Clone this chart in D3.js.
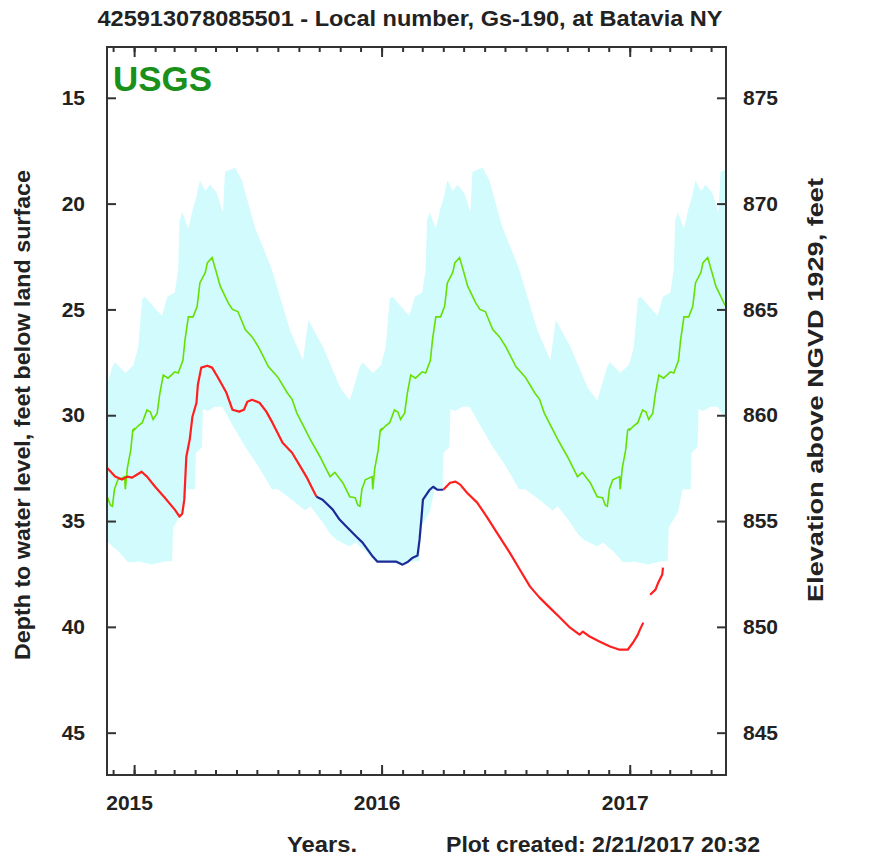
<!DOCTYPE html>
<html>
<head>
<meta charset="utf-8">
<script src="https://cdn.jsdelivr.net/npm/d3@7"></script>
<style>
body { margin: 0; background: #fff; }
text { font-family: "Liberation Sans", Arial, sans-serif; font-weight: bold; fill: #222; }
.axis line { stroke: #333; stroke-width: 2; }
.axis path { display: none; }
</style>
</head>
<body>
<svg width="873" height="857"></svg>
<script>
// **** data ****

// daily statistics, one annual cycle: day of year -> depth below land surface (ft)
var medianDoy   = [0, 6, 12, 19, 24, 28, 34, 38, 43, 50, 60, 65, 72, 75, 80, 87, 93, 97, 105, 108, 115, 120, 127, 139, 145, 153, 164, 174, 183, 198, 212, 226, 233, 240, 260, 274, 289, 296, 308, 318, 326, 330, 333, 336, 341, 351, 352, 355, 360, 363, 365];
var medianDepth = [30.7, 30.5, 30.35, 29.75, 29.85, 30.2, 29.9, 28.95, 28.1, 28.25, 27.95, 28.0, 27.4, 26.45, 25.35, 25.35, 24.85, 23.75, 23.25, 22.8, 22.55, 23.1, 23.9, 24.7, 25.0, 25.1, 25.95, 26.3, 26.75, 27.7, 28.2, 28.95, 29.25, 29.9, 31.15, 31.95, 32.9, 32.7, 33.2, 33.85, 33.9, 34.25, 34.3, 33.5, 33.05, 32.9, 33.5, 32.5, 31.65, 30.7, 30.65];

var maxDoy   = [0, 6, 12, 16, 24, 41, 49, 60, 65, 67, 71, 80, 87, 91, 97, 105, 112, 122, 131, 134, 149, 159, 178, 203, 230, 249, 257, 279, 304, 318, 333, 337, 352, 365];
var maxDepth = [27.5, 26.8, 24.5, 24.4, 24.7, 25.3, 24.4, 24.2, 23.1, 20.8, 20.4, 21.2, 20.2, 19.8, 18.9, 19.4, 19.1, 19.5, 20.4, 18.5, 18.3, 18.9, 21.1, 23.1, 26.0, 27.4, 25.5, 26.8, 28.7, 29.3, 27.7, 27.5, 28.0, 27.6];

var minDoy   = [0, 6, 26, 46, 56, 57.5, 71, 78, 90, 91, 100, 101.5, 109, 119, 130, 144, 164, 183, 203, 212, 233, 252, 260, 279, 289, 299, 318, 327, 333, 341, 356, 365];
var minDepth = [36.95, 36.9, 37.05, 36.9, 36.9, 35.3, 34.6, 33.5, 33.5, 31.8, 31.5, 29.7, 29.8, 29.6, 29.6, 30.4, 31.5, 32.4, 33.5, 33.5, 34.0, 34.5, 34.3, 35.1, 35.6, 35.9, 36.2, 36.0, 36.2, 36.4, 36.95, 36.95];

var statYears = [2014, 2015, 2016, 2017];

// measured water levels
var red1Dates  = ["2014-11-22","2014-12-04","2014-12-14","2014-12-22","2014-12-29","2015-01-05","2015-01-12","2015-01-20","2015-02-01","2015-02-15","2015-03-02","2015-03-09","2015-03-13","2015-03-16","2015-03-19","2015-03-24","2015-03-28","2015-04-03","2015-04-05","2015-04-10","2015-04-19","2015-04-26","2015-05-04","2015-05-17","2015-05-26","2015-06-05","2015-06-12","2015-06-17","2015-06-24","2015-07-05","2015-07-15","2015-07-24","2015-08-08","2015-08-22","2015-09-12","2015-09-24","2015-09-27"];
var red1Depths = [32.48, 32.9, 33.04, 32.9, 32.95, 32.81, 32.67, 32.9, 33.38, 33.89, 34.46, 34.79, 34.65, 33.99, 31.96, 31.15, 30.07, 29.41, 28.56, 27.75, 27.66, 27.75, 28.18, 28.93, 29.74, 29.83, 29.74, 29.36, 29.27, 29.41, 29.83, 30.35, 31.3, 31.77, 32.9, 33.66, 33.85];

var blueDates  = ["2015-09-27","2015-10-06","2015-10-21","2015-10-31","2015-11-10","2015-11-25","2015-12-04","2015-12-19","2015-12-26","2016-01-23","2016-02-01","2016-02-09","2016-02-16","2016-02-23","2016-02-26","2016-02-29","2016-03-02","2016-03-12","2016-03-17","2016-03-23","2016-04-01"];
var blueDepths = [33.85, 33.99, 34.46, 34.93, 35.26, 35.74, 36.02, 36.68, 36.92, 36.92, 37.06, 36.92, 36.73, 36.63, 35.88, 34.79, 33.99, 33.52, 33.38, 33.52, 33.52];

var red2Dates  = ["2016-04-01","2016-04-11","2016-04-19","2016-04-26","2016-05-06","2016-05-21","2016-06-04","2016-06-19","2016-07-08","2016-07-23","2016-08-07","2016-08-21","2016-09-05","2016-09-20","2016-10-05","2016-10-19","2016-10-24","2016-11-03","2016-11-18","2016-12-03","2016-12-17","2016-12-29","2017-01-06","2017-01-13","2017-01-16","2017-01-21"];
var red2Depths = [33.52, 33.19, 33.14, 33.28, 33.66, 34.13, 34.79, 35.55, 36.49, 37.3, 38.1, 38.62, 39.09, 39.56, 40.04, 40.37, 40.22, 40.46, 40.7, 40.93, 41.08, 41.08, 40.74, 40.37, 40.13, 39.8];

var red3Dates  = ["2017-01-31","2017-02-08","2017-02-12","2017-02-18","2017-02-19"];
var red3Depths = [38.48, 38.24, 37.91, 37.53, 37.2];

var depthTicks = [15, 20, 25, 30, 35, 40, 45];
var elevTicks = [875, 870, 865, 860, 855, 850, 845];

// **** scales and axes ****

var parseDate = d3.timeParse('%Y-%m-%d');
var plotL = 107, plotR = 726, plotT = 47, plotB = 775;

var xScale = d3.scaleTime()
    .domain([parseDate('2014-11-22'), parseDate('2017-05-23')]).range([plotL, plotR]);
var yScale = d3.scaleLinear()
    .domain([12.6, 47.0]).range([plotT, plotB]);
var elevScale = d3.scaleLinear()
    .domain([877.4, 843.0]).range([plotT, plotB]);

var svg = d3.select('svg');

svg.append('defs').append('clipPath').attr('id', 'plot')
    .append('rect')
    .attr('x', plotL).attr('y', plotT)
    .attr('width', plotR - plotL).attr('height', plotB - plotT);

function doyDate(year, doy) {
    return new Date(new Date(year, 0, 1).getTime() + doy * 864e5);
}

function cycle(doys, depths) {
    var pts = [];
    statYears.forEach(function(yr) {
        doys.forEach(function(d, i) {
            pts.push([xScale(doyDate(yr, d)), yScale(depths[i])]);
        });
    });
    return pts;
}

// envelope of daily max/min
var topPts = cycle(maxDoy, maxDepth);
var bottomPts = cycle(minDoy, minDepth).reverse();
svg.append('path')
    .attr('clip-path', 'url(#plot)')
    .attr('d', d3.line()(topPts.concat(bottomPts)) + 'Z')
    .style('fill', '#d2fbfd')
    .style('stroke', 'none');

// daily median
svg.append('path')
    .attr('clip-path', 'url(#plot)')
    .attr('d', d3.line()(cycle(medianDoy, medianDepth)))
    .style('fill', 'none')
    .style('stroke', '#66e000')
    .style('stroke-width', 1.6);

// measured levels
var obsLine = d3.line()
    .x(function(d) { return xScale(d[0]); })
    .y(function(d) { return yScale(d[1]); });

var segments = [
    [red1Dates, red1Depths, '#ff1f1f'],
    [blueDates, blueDepths, '#1c2a96'],
    [red2Dates, red2Depths, '#ff1f1f'],
    [red3Dates, red3Depths, '#ff1f1f']
];
segments.forEach(function(s) {
    var pts = s[0].map(function(d, i) { return [parseDate(d), s[1][i]]; });
    svg.append('path')
        .attr('clip-path', 'url(#plot)')
        .attr('d', obsLine(pts))
        .style('fill', 'none')
        .style('stroke', s[2])
        .style('stroke-width', 2.2)
        .style('stroke-linejoin', 'round');
});

// x axes: monthly minor ticks, yearly major ticks, top and bottom
svg.append('g').attr('class', 'axis')
    .attr('transform', 'translate(0,' + plotB + ')')
    .call(d3.axisBottom(xScale).ticks(d3.timeMonth.every(1)).tickSize(-5).tickFormat(''));
svg.append('g').attr('class', 'axis')
    .attr('transform', 'translate(0,' + plotT + ')')
    .call(d3.axisTop(xScale).ticks(d3.timeMonth.every(1)).tickSize(-5).tickFormat(''));
svg.append('g').attr('class', 'axis')
    .attr('transform', 'translate(0,' + plotT + ')')
    .call(d3.axisTop(xScale).ticks(d3.timeYear.every(1)).tickSize(-10).tickFormat(''));
var xMajor = svg.append('g').attr('class', 'axis')
    .attr('transform', 'translate(0,' + plotB + ')')
    .call(d3.axisBottom(xScale).ticks(d3.timeYear.every(1)).tickSize(-10).tickPadding(20)
        .tickFormat(d3.timeFormat('%Y')));
xMajor.selectAll('text').attr('x', -5).style('font-size', '21px');

// y axes
var yLeft = svg.append('g').attr('class', 'axis')
    .attr('transform', 'translate(' + plotL + ',0)')
    .call(d3.axisLeft(yScale).tickValues(depthTicks).tickSize(-9).tickPadding(22));
yLeft.selectAll('text').style('font-size', '21px');

var yRight = svg.append('g').attr('class', 'axis')
    .attr('transform', 'translate(' + plotR + ',0)')
    .call(d3.axisRight(elevScale).tickValues(elevTicks).tickSize(-9).tickPadding(17));
yRight.selectAll('text').style('font-size', '21px');

// frame
svg.append('rect')
    .attr('x', plotL).attr('y', plotT)
    .attr('width', plotR - plotL).attr('height', plotB - plotT)
    .style('fill', 'none').style('stroke', '#333').style('stroke-width', 2);

// **** labels ****
svg.append('text')
    .attr('x', 410).attr('y', 26)
    .attr('text-anchor', 'middle')
    .attr('textLength', 625).attr('lengthAdjust', 'spacingAndGlyphs')
    .style('font-size', '22px')
    .text('425913078085501 - Local number, Gs-190, at Batavia NY');

svg.append('text')
    .attr('x', 113).attr('y', 91)
    .attr('textLength', 99).attr('lengthAdjust', 'spacingAndGlyphs')
    .style('font-size', '35px')
    .style('fill', '#1a8f1a')
    .text('USGS');

svg.append('text')
    .attr('transform', 'translate(22,415) rotate(-90)')
    .attr('text-anchor', 'middle').attr('dy', '0.35em')
    .attr('textLength', 490).attr('lengthAdjust', 'spacingAndGlyphs')
    .style('font-size', '22px')
    .text('Depth to water level, feet below land surface');

svg.append('text')
    .attr('transform', 'translate(815,390) rotate(-90)')
    .attr('text-anchor', 'middle').attr('dy', '0.35em')
    .attr('textLength', 424).attr('lengthAdjust', 'spacingAndGlyphs')
    .style('font-size', '22px')
    .text('Elevation above NGVD 1929, feet');

svg.append('text')
    .attr('x', 287).attr('y', 852)
    .attr('textLength', 70).attr('lengthAdjust', 'spacingAndGlyphs')
    .style('font-size', '22px')
    .text('Years.');

svg.append('text')
    .attr('x', 446).attr('y', 852)
    .attr('textLength', 314).attr('lengthAdjust', 'spacingAndGlyphs')
    .style('font-size', '22px')
    .text('Plot created: 2/21/2017 20:32');
</script>
</body>
</html>
